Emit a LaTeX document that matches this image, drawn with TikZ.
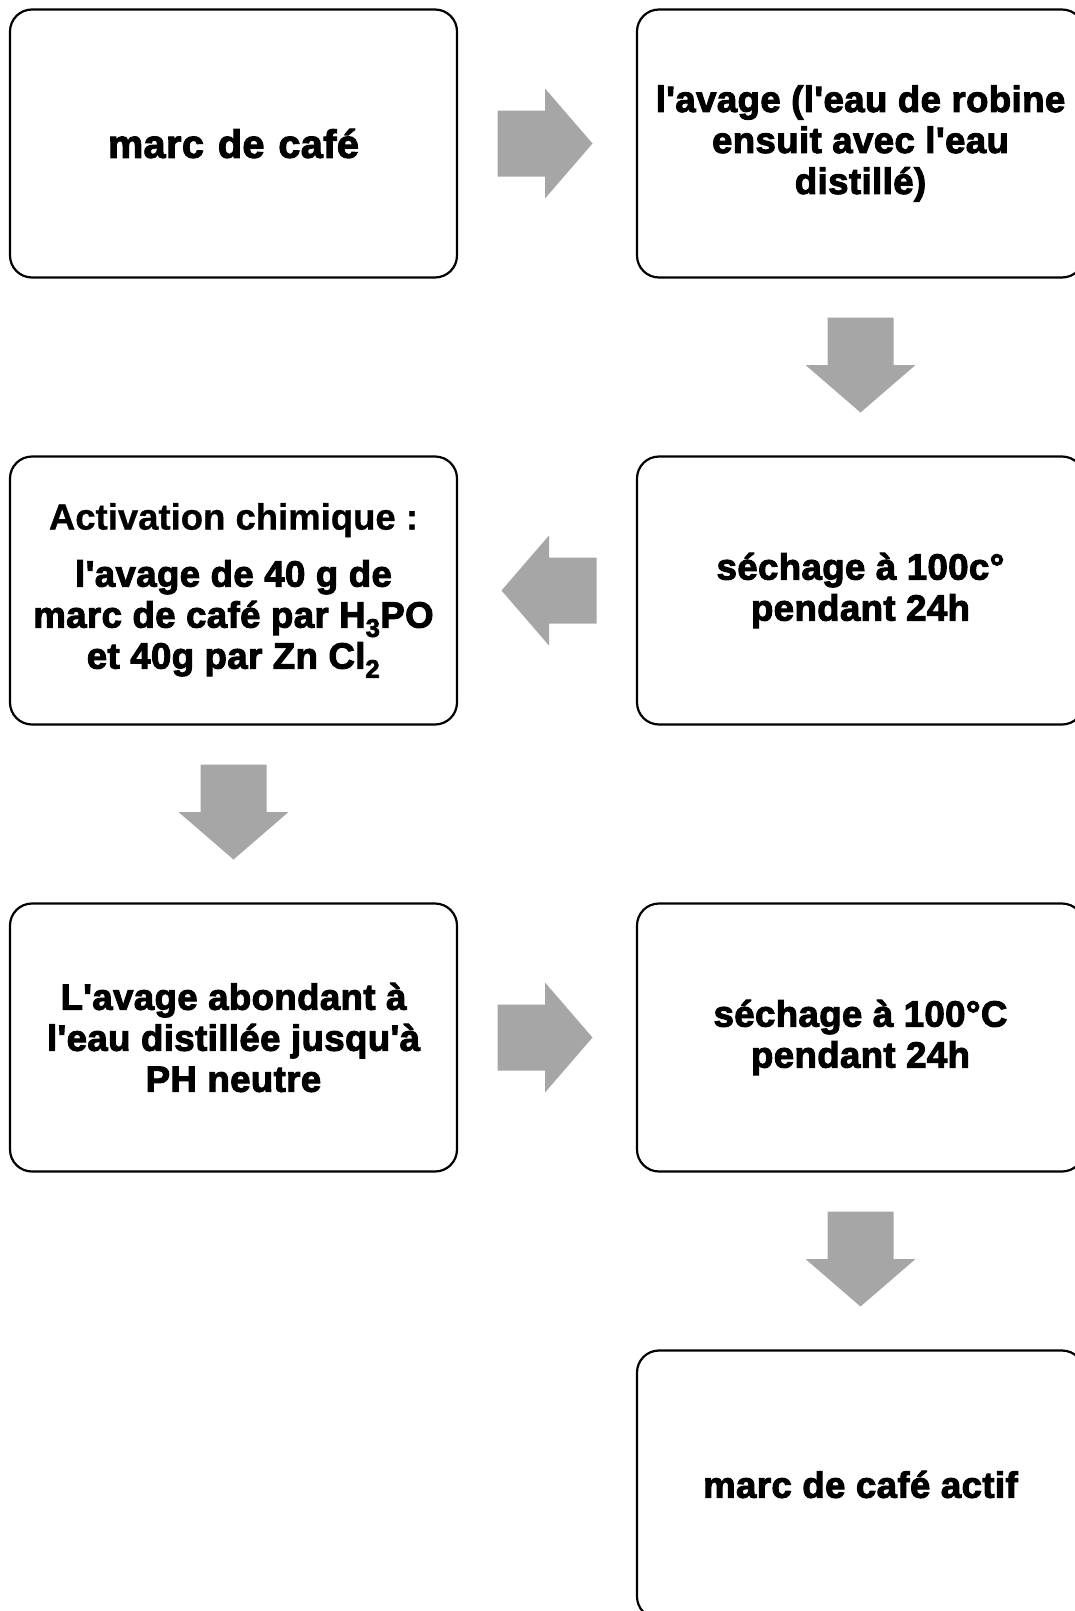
\documentclass[tikz,border=0pt]{standalone}
\usepackage{fontspec}
\setmainfont{Liberation Sans}[Ligatures=TeXOff]
\newfontfamily\plainfont{Liberation Sans}[Ligatures=TeXOff]
\usetikzlibrary{calc}
\definecolor{arrowgray}{RGB}{166,166,166}
\newcommand{\heavy}{\bfseries\addfontfeatures{FakeBold=2.8,LetterSpace=1.2}}
\tikzset{
  box/.style={draw=black, line width=2.2pt, rounded corners=22pt,
    minimum width=447pt, minimum height=268pt, align=center, inner sep=0pt,
    font=\fontsize{36.5}{41}\selectfont\heavy},
  blockarrow/.style={fill=arrowgray, draw=none}
}
\newcommand{\myarrow}[2]{%
  \fill[blockarrow, shift={#1}, rotate=#2]
    (-47.5pt,-33pt) -- (0pt,-33pt) -- (0pt,-55pt) -- (47.5pt,0pt)
    -- (0pt,55pt) -- (0pt,33pt) -- (-47.5pt,33pt) -- cycle;}
\begin{document}
\begin{tikzpicture}[x=1pt,y=-1pt]
\useasboundingbox (0,0) rectangle (1075,1611);
\fill[white] (0,0) rectangle (1075,1611);

\node[box] (b1) at (233.5,143.5) {{\fontsize{39.5}{44}\selectfont\spaceskip=14pt marc de café}};
\node[box] (b2) at (860.5,143.5) {l'avage (l'eau de robine\\ensuit avec l'eau\\distillé)};
\node[box] (b3) at (860.5,590.5) {séchage à 100c°\\pendant 24h};
\node[box] (b4) at (233.5,590.5) {{\plainfont\bfseries\addfontfeatures{FakeBold=0.8} Activation chimique :}\\[16pt]l'avage de 40 g de\\marc de café par H\textsubscript{3}PO\\et 40g par Zn Cl\textsubscript{2}};
\node[box] (b5) at (233.5,1037.5) {L'avage abondant à\\l'eau distillée jusqu'à\\PH neutre};
\node[box] (b6) at (860.5,1037.5) {séchage à 100°C\\pendant 24h};
\node[box] (b7) at (860.5,1484.5) {marc de café actif};

\coordinate (a1) at ($(b1.east)!0.5!(b2.west)+(-2,0)$);
\coordinate (a2) at ($(b2.south)!0.5!(b3.north)+(0,-2)$);
\coordinate (a3) at ($(b3.west)!0.5!(b4.east)+(2,0)$);
\coordinate (a4) at ($(b4.south)!0.5!(b5.north)+(0,-2)$);
\coordinate (a5) at ($(b5.east)!0.5!(b6.west)+(-2,0)$);
\coordinate (a6) at ($(b6.south)!0.5!(b7.north)+(0,-2)$);

\myarrow{(a1)}{0}
\myarrow{(a2)}{-90}
\myarrow{(a3)}{180}
\myarrow{(a4)}{-90}
\myarrow{(a5)}{0}
\myarrow{(a6)}{-90}
\end{tikzpicture}
\end{document}
